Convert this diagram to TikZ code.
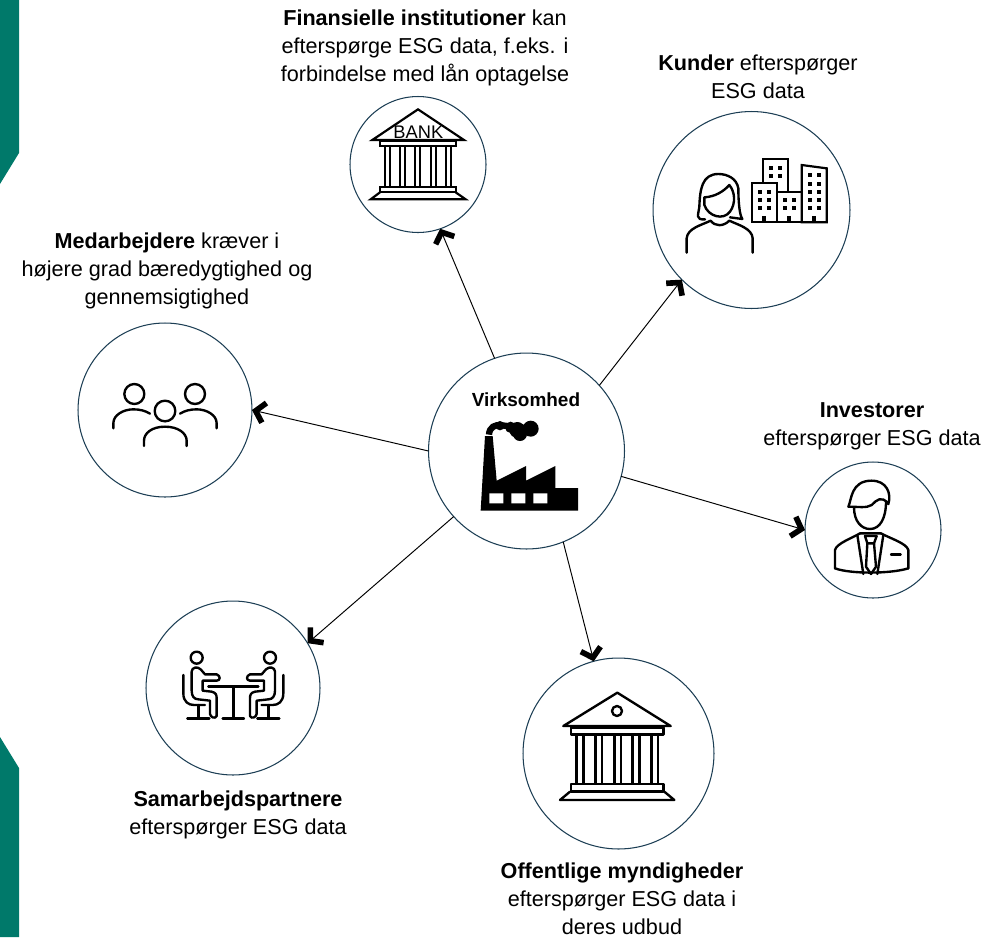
\documentclass[tikz,border=0pt]{standalone}
\usepackage{fontspec}
\setmainfont{Liberation Sans}
\usetikzlibrary{arrows.meta}
\definecolor{bandgreen}{RGB}{0,121,106}
\definecolor{ringblue}{RGB}{28,62,84}
\tikzset{
  ring/.style={circle,draw=ringblue,line width=.6pt,minimum size=#1,inner sep=0pt,outer sep=0pt},
  caption/.style={align=center,inner sep=0pt,font=\fontsize{12.3}{15.8}\selectfont},
  link/.style={line width=.55pt,-{Straight Barb[length=5pt,width=11.5pt,line width=3.2pt]}},
  icon/.style={line width=1.35pt,line join=round,line cap=round,black},
  thinicon/.style={line width=1.25pt,line join=miter,black},
}
\begin{document}
\begin{tikzpicture}[x=0.02cm,y=-0.02cm]
  \useasboundingbox (0,0) rectangle (1004,937);
  % side band
  \fill[bandgreen] (0,0) -- (19,0) -- (19,153) -- (0,184) -- cycle;
  \fill[bandgreen] (0,737) -- (19,768) -- (19,937) -- (0,937) -- cycle;
  % circles
  \node[ring=3.92cm] (main) at (526.5,451) {};
  \node[ring=2.72cm] (bank) at (418,164.5) {};
  \node[ring=3.94cm] (kunder) at (751.5,210) {};
  \node[ring=2.72cm] (investor) at (873,530) {};
  \node[ring=3.82cm] (myndighed) at (618.5,753.5) {};
  \node[ring=3.48cm] (partner) at (233,688) {};
  \node[ring=3.48cm] (medarb) at (165,410) {};
  % connectors
  \draw[link] (main.109.6) -- (bank.-71);
  \draw[link] (main.42.5) -- (kunder.225);
  \draw[link] (main.-15.6) -- (investor.180);
  \draw[link] (main.-68.6) -- (myndighed.105.4);
  \draw[link] (main.222.8) -- (partner.31);
  \draw[link] (main.180) -- (medarb.0);
  % labels
  \node[caption] (banktxt) at (425,48) {\textbf{Finansielle institutioner} kan\\efterspørge ESG data, f.eks. i\\forbindelse med lån optagelse};
  \node[caption] (kundertxt) at (758,77) {\textbf{Kunder} efterspørger\\ESG data};
  \node[caption] (medarbtxt) at (167,271) {\textbf{Medarbejdere} kræver i\\højere grad bæredygtighed og\\gennemsigtighed};
  \node[caption] (investortxt) at (872,426) {\textbf{Investorer}\\efterspørger ESG data};
  \node[caption] (partnertxt) at (238,815) {\textbf{Samarbejdspartnere}\\efterspørger ESG data};
  \node[caption] (myndighedtxt) at (622,899) {\textbf{Offentlige myndigheder}\\efterspørger ESG data i\\deres udbud};
  \node[inner sep=0pt,font=\fontsize{10.8}{12}\selectfont\bfseries] (maintxt) at (526,400) {Virksomhed};
  % factory
  \begin{scope}[shift={(420,350)},scale=1/3]
    \fill[black] (195,258) -- (218,258) -- (230,392) -- (318,348) -- (318,392) -- (406,348) -- (406,414) -- (474,414) -- (474,482) -- (182,482) -- cycle;
    \fill[white] (208,430) rectangle (250,460) (274,430) rectangle (316,460) (340,430) rectangle (382,460);
    \draw[line width=3.6pt,black] (207,254) .. controls (208,232) and (225,222) .. (245,226) -- (330,236);
    \fill[black] (240,227) circle (14) (272,232) circle (17) (292,240) circle (24) (332,236) circle (24) (300,252) circle (21);
  \end{scope}
  % bank
  \begin{scope}[shift={(340,90)},scale=1/3]
    \draw[thinicon] (97,150) -- (234,58) -- (372,150) -- cycle;
    \node[inner sep=0pt,font=\fontsize{10.4}{11}\selectfont] (banksign) at (235,126) {BANK};
    \draw[thinicon] (120,152) rectangle (347,167);
    \foreach \x in {135,180,226,272,318} \draw[thinicon] (\x,167) rectangle (\x+15,290);
    \draw[thinicon] (120,290) rectangle (347,307);
    \draw[thinicon] (120,307) -- (92,328) -- (377,328) -- (347,307);
  \end{scope}
  % woman and buildings
  \begin{scope}[shift={(640,100)},scale=1/3]
    \draw[icon] (195,358) .. controls (165,360) and (175,345) .. (178,320) .. controls (180,270) and (185,222) .. (235,222) .. controls (262,222) and (290,235) .. (295,265) .. controls (295,300) and (298,345) .. (307,357) -- (270,352);
    \draw[icon] (193,292) .. controls (225,290) and (250,275) .. (268,255) .. controls (285,275) and (288,310) .. (270,335) .. controls (250,362) and (205,350) .. (193,315) -- cycle;
    \draw[icon] (140,458) -- (140,415) .. controls (142,385) and (185,375) .. (212,362) .. controls (225,380) and (250,380) .. (268,362) .. controls (295,375) and (336,385) .. (338,415) -- (338,458);
    \draw[thinicon] (368,250) -- (368,178) -- (445,178) -- (445,275);
    \draw[thinicon] (335,250) rectangle (410,367);
    \draw[thinicon] (410,275) rectangle (485,367);
    \draw[thinicon] (485,367) -- (485,195) -- (560,205) -- (560,367) -- cycle;
    \foreach \x in {394,420} \foreach \y in {204,229} \fill (\x-6,\y-6) rectangle (\x+6,\y+6);
    \foreach \x in {360,386} \foreach \y in {276,300,325} \fill (\x-6,\y-6) rectangle (\x+6,\y+6);
    \foreach \x in {435,461} \foreach \y in {300,325} \fill (\x-6,\y-6) rectangle (\x+6,\y+6);
    \foreach \x in {510,536} \foreach \y in {226,252,276,300,325} \fill (\x-6,\y-6) rectangle (\x+6,\y+6);
    \foreach \x in {372,447,522} \fill (\x-6,347) rectangle (\x+6,367);
  \end{scope}
  % investor
  \begin{scope}[shift={(780,450)},scale=1/3]
    \draw[icon] (205,170) .. controls (215,150) and (212,92) .. (275,92) .. controls (320,92) and (335,130) .. (325,162) .. controls (305,135) and (290,150) .. (275,165) .. controls (260,175) and (235,170) .. (205,170) -- cycle;
    \draw[icon] (222,172) .. controls (222,215) and (245,237) .. (270,237) .. controls (300,237) and (318,205) .. (318,155);
    \draw[icon] (165,355) -- (165,300) .. controls (170,280) and (215,265) .. (240,250);
    \draw[icon] (385,355) -- (385,300) .. controls (380,280) and (330,265) .. (303,250);
    \draw[icon] (165,355) .. controls (210,372) and (330,372) .. (385,355);
    \draw[icon] (232,255) -- (250,372) (310,255) -- (292,372) (240,250) -- (303,250);
    \draw[icon] (255,258) -- (290,258) -- (282,280) -- (262,280) -- cycle;
    \draw[icon] (262,280) -- (258,350) -- (273,372) -- (288,350) -- (282,280);
    \draw[icon] (333,314) -- (362,314);
  \end{scope}
  % meeting
  \begin{scope}[shift={(140,610)},scale=1/3]
    \draw[icon] (205,230) -- (355,230) (280,230) -- (280,325) (248,325) -- (312,325);
    \foreach \s in {1,-1} {
      \begin{scope}[shift={(280,0)},xscale=\s]
        \draw[icon] (-110,143) circle (18);
        \draw[icon] (-125,242) -- (-125,185) .. controls (-125,172) and (-108,168) .. (-98,178) -- (-85,193) -- (-50,193) .. controls (-38,197) and (-38,212) .. (-50,212) -- (-92,212) -- (-92,242) -- (-65,245) .. controls (-52,248) and (-50,255) .. (-50,265) -- (-50,318) .. controls (-55,328) and (-68,322) .. (-70,312) -- (-70,272) -- (-105,268) .. controls (-118,268) and (-125,258) .. (-125,242);
        \draw[icon] (-150,195) -- (-150,250) .. controls (-150,275) and (-135,285) .. (-118,285) -- (-85,285);
        \draw[icon] (-105,285) -- (-105,325) (-138,325) -- (-72,325);
      \end{scope}
    }
  \end{scope}
  % public building
  \begin{scope}[shift={(520,630)},scale=1/3]
    \draw[icon] (130,288) -- (292,188) -- (452,288) -- cycle;
    \draw[icon] (291,243) circle (15);
    \draw[icon] (153,292) rectangle (430,313);
    \foreach \x in {170,226,283,338,394} \draw[icon] (\x,313) rectangle (\x+20,462);
    \draw[icon] (153,462) rectangle (430,485);
    \draw[icon] (150,485) -- (120,510) -- (463,510) -- (433,485);
  \end{scope}
  % people
  \begin{scope}[shift={(70,320)},scale=1/3]
    \draw[icon] (193,222) circle (30) (375,222) circle (30) (285,273) circle (31);
    \draw[icon] (130,325) -- (130,310) .. controls (130,285) and (160,268) .. (190,268) .. controls (210,268) and (225,272) .. (240,281);
    \draw[icon] (440,325) -- (440,310) .. controls (440,285) and (410,268) .. (380,268) .. controls (360,268) and (345,272) .. (330,281);
    \draw[icon] (222,378) -- (222,362) .. controls (222,340) and (245,320) .. (285,320) .. controls (325,320) and (350,340) .. (350,362) -- (350,378);
  \end{scope}
\end{tikzpicture}
\end{document}
